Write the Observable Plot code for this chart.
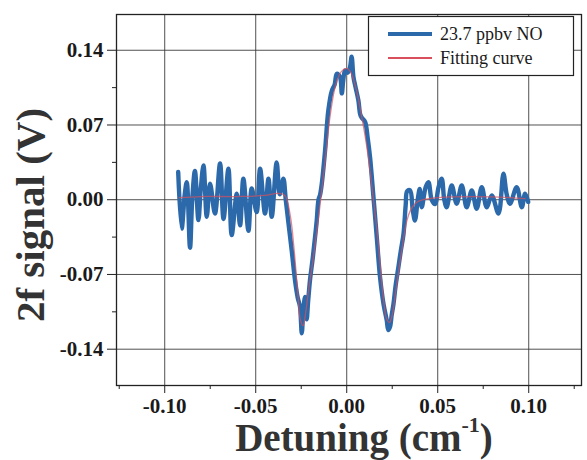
<!DOCTYPE html>
<html><head><meta charset="utf-8">
<script src="https://cdn.jsdelivr.net/npm/d3@7"></script>
<script src="https://cdn.jsdelivr.net/npm/@observablehq/plot@0.6"></script>
<style>body{margin:0;background:#fff}</style>
</head><body><div id="chart"></div>
<script>
// measured 2f signal (23.7 ppbv NO)
const signalX = [-0.0926,-0.0907,-0.0890,-0.0879,-0.0861,-0.0849,-0.0834,-0.0815,-0.0802,-0.0787,-0.0769,-0.0751,-0.0724,-0.0696,-0.0677,-0.0650,-0.0632,-0.0604,-0.0586,-0.0568,-0.0540,-0.0522,-0.0495,-0.0476,-0.0449,-0.0430,-0.0412,-0.0385,-0.0368,-0.0348,-0.0335,-0.0320,-0.0302,-0.0284,-0.0269,-0.0257,-0.0247,-0.0239,-0.0229,-0.0220,-0.0212,-0.0202,-0.0187,-0.0174,-0.0165,-0.0155,-0.0146,-0.0137,-0.0119,-0.0101,-0.0082,-0.0066,-0.0055,-0.0037,-0.0027,-0.0019,-0.0009,0.0005,0.0018,0.0027,0.0037,0.0049,0.0064,0.0074,0.0082,0.0101,0.0115,0.0128,0.0147,0.0165,0.0183,0.0202,0.0220,0.0228,0.0238,0.0247,0.0257,0.0269,0.0284,0.0297,0.0312,0.0324,0.0332,0.0348,0.0363,0.0375,0.0390,0.0401,0.0412,0.0434,0.0449,0.0467,0.0485,0.0505,0.0522,0.0536,0.0549,0.0577,0.0604,0.0632,0.0659,0.0687,0.0714,0.0742,0.0769,0.0797,0.0834,0.0861,0.0879,0.0897,0.0934,0.0962,0.0980,0.0997];
const signalY = [0.026,-0.027,0.005,0.0165,-0.045,0.000,0.027,-0.019,0.010,0.032,-0.016,0.015,-0.013,0.034,-0.018,0.029,-0.033,0.0056,-0.024,0.0197,-0.029,0.0106,-0.0116,0.029,-0.013,0.0197,-0.016,0.035,0.005,0.0197,0.000,-0.022,-0.048,-0.0756,-0.092,-0.100,-0.125,-0.105,-0.091,-0.112,-0.095,-0.0756,-0.055,-0.035,-0.020,0.000,0.005,0.015,0.046,0.0837,0.102,0.108,0.118,0.115,0.0996,0.112,0.121,0.119,0.124,0.134,0.115,0.105,0.093,0.080,0.077,0.073,0.058,0.040,0.0024,-0.035,-0.0725,-0.0975,-0.113,-0.122,-0.119,-0.108,-0.0975,-0.080,-0.063,-0.048,-0.032,-0.005,0.008,0.0087,-0.010,-0.0194,0.000,0.010,-0.007,0.012,0.0165,0.000,-0.004,0.012,0.0197,0.000,-0.007,0.0134,-0.0037,0.0134,-0.007,0.0087,-0.0084,0.0118,-0.007,0.004,-0.013,0.0244,0.005,-0.0037,0.0118,-0.007,0.0056,-0.002];
// fitting curve
const fitX = [-0.092,-0.080,-0.060,-0.045,-0.038,-0.034,-0.031,-0.029,-0.027,-0.0255,-0.024,-0.0225,-0.021,-0.018,-0.015,-0.012,-0.009,-0.006,-0.003,0.000,0.002,0.005,0.008,0.011,0.014,0.017,0.020,0.022,0.0235,0.025,0.027,0.030,0.033,0.035,0.038,0.042,0.050,0.070,0.090,0.098];
const fitY = [0.002,0.003,0.003,0.004,0.006,0.004,-0.015,-0.045,-0.085,-0.112,-0.118,-0.105,-0.085,-0.050,-0.010,0.035,0.080,0.108,0.120,0.123,0.120,0.105,0.080,0.050,0.010,-0.035,-0.090,-0.112,-0.115,-0.108,-0.085,-0.050,-0.020,-0.010,-0.003,0.000,0.002,0.003,0.002,0.001];

const xTicks = [-0.10,-0.05,0.00,0.05,0.10];
const xTickLabels = ["-0.10","-0.05","0.00","0.05","0.10"];
const xMinorTicks = [-0.125,-0.075,-0.025,0.025,0.075,0.125];
const yTicks = [-0.14,-0.07,0.00,0.07,0.14];
const yTickLabels = ["-0.14","-0.07","0.00","0.07","0.14"];
const yMinorTicks = [-0.105,-0.035,0.035,0.105];
const seriesNames = ["23.7 ppbv NO","Fitting curve"];
const xTitle = "Detuning (cm";
const xTitleSup = "-1";
const yTitle = "2f signal (V)";

const blue = "#2b69aa", red = "#d9505c";
const signal = signalX.map((x,i)=>({x, y: signalY[i]}));
const fit = fitX.map((x,i)=>({x, y: fitY[i]}));
const serif = "'Liberation Serif','Times New Roman',serif";

const plot = Plot.plot({
  width: 587, height: 460,
  marginLeft: 116, marginRight: 6, marginTop: 14, marginBottom: 75,
  style: {fontFamily: serif, background: "#fff", color: "#1a1a1a"},
  x: {domain: [-0.1265, 0.129]},
  y: {domain: [-0.174, 0.1735]},
  marks: [
    Plot.gridX(xTicks, {stroke: "#333", strokeOpacity: 0.85, strokeWidth: 1}),
    Plot.gridY(yTicks, {stroke: "#333", strokeOpacity: 0.85, strokeWidth: 1}),
    Plot.axisX(xTicks, {tickSize: 8, tickPadding: 5, fontSize: 21, fontWeight: "bold", fill: "#1a1a1a", tickFormat: d => xTickLabels[xTicks.indexOf(d)], label: null, stroke: "#222"}),
    Plot.axisX(xMinorTicks, {tickSize: 4, tickFormat: () => "", label: null, stroke: "#222"}),
    Plot.axisY(yTicks, {tickSize: 9, tickPadding: 4, fontSize: 21, fontWeight: "bold", fill: "#1a1a1a", tickFormat: d => yTickLabels[yTicks.indexOf(d)], label: null, stroke: "#222"}),
    Plot.axisY(yMinorTicks, {tickSize: 4, tickFormat: () => "", label: null, stroke: "#222"}),
    Plot.frame({stroke: "#222", strokeWidth: 1.3}),
    Plot.line(signal, {x: "x", y: "y", stroke: blue, strokeWidth: 4.4, curve: "catmull-rom", strokeLinejoin: "round"}),
    Plot.line(fit, {x: "x", y: "y", stroke: red, strokeWidth: 1.3, strokeOpacity: 0.7, curve: "catmull-rom"})
  ]
});
document.getElementById("chart").append(plot);

const svg = d3.select(plot);
// legend
const lg = svg.append("g").attr("font-family", serif).attr("text-anchor", "start");
lg.append("rect").attr("x", 368.5).attr("y", 16.5).attr("width", 205).attr("height", 59)
  .attr("fill", "#fff").attr("stroke", "#222").attr("stroke-width", 1.2);
[[blue, 4, 34], [red, 2, 58]].forEach(([c, w, y], i) => {
  lg.append("line").attr("x1", 388).attr("x2", 432).attr("y1", y).attr("y2", y)
    .attr("stroke", c).attr("stroke-width", w);
  lg.append("text").attr("x", 440).attr("y", y).attr("dy", "0.35em").attr("text-anchor", "start")
    .attr("font-size", 18).attr("fill", "#1a1a1a").text(seriesNames[i]);
});
// axis titles
const xt = svg.append("text").attr("x", 364).attr("y", 451).attr("text-anchor", "middle")
  .attr("font-family", serif).attr("font-weight", "bold").attr("font-size", 39).attr("fill", "#333");
xt.append("tspan").text(xTitle);
xt.append("tspan").attr("font-size", 22).attr("dy", -19).text(xTitleSup);
xt.append("tspan").attr("dy", 19).text(")");
svg.append("text").attr("transform", "translate(44,215) rotate(-90)").attr("text-anchor", "middle")
  .attr("font-family", serif).attr("font-weight", "bold").attr("font-size", 41).attr("fill", "#333")
  .text(yTitle);
</script></body></html>
